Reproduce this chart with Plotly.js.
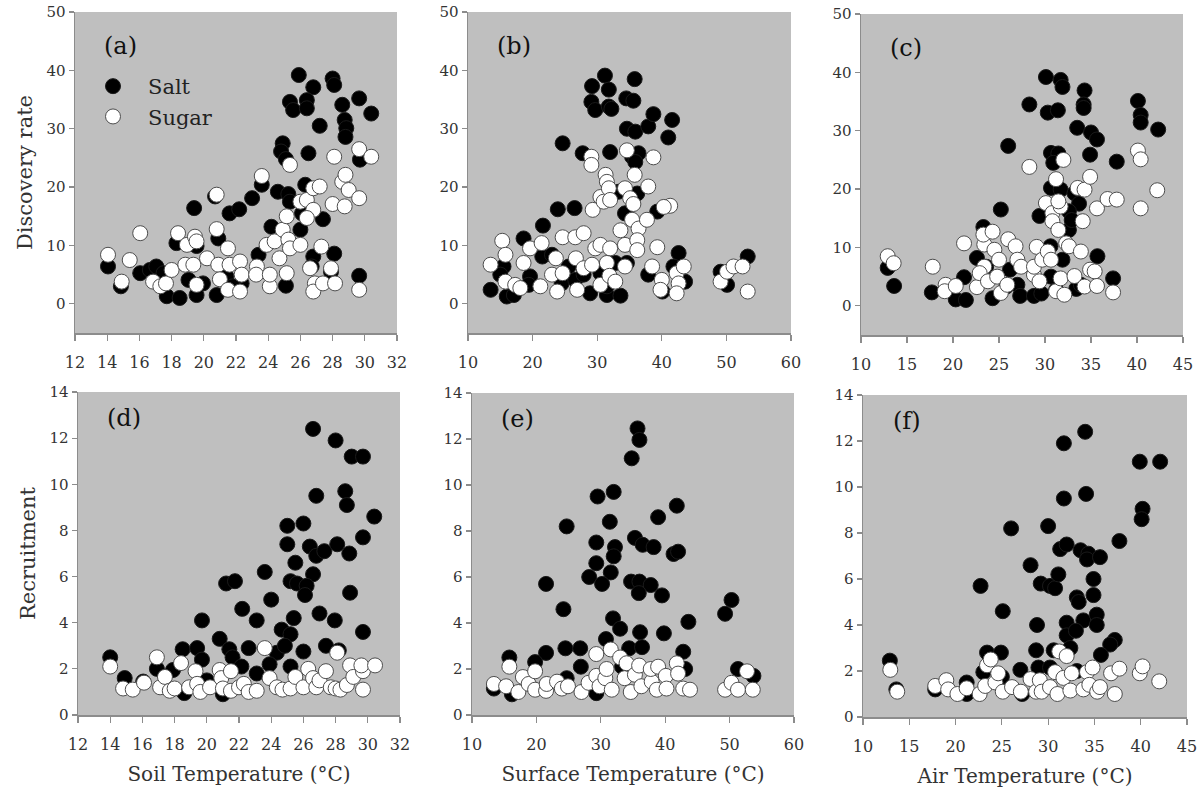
<!DOCTYPE html>
<html>
<head>
<meta charset="utf-8">
<script src="https://cdn.plot.ly/plotly-3.0.1.min.js"></script>
<style>html,body{margin:0;padding:0;background:#fff;}#chart{width:1204px;height:793px;}</style>
</head>
<body>
<div id="chart"></div>
<script>
// ---------- (a) Soil temperature vs discovery rate ----------
const soilSaltX = [25.9,26.8,26.4,25.35,25.55,26.4,28.0,28.1,28.6,29.65,30.4,28.75,28.85,28.8,27.2,24.9,24.8,25.1,26.5,29.7,23.6,23.0,24.6,25.25,25.35,26.3,21.6,22.2,19.4,20.7,20.9,18.3,19.55,24.2,26.0,27.4,26.1,23.4,26.8,28.1,29.65,25.1,14.05,14.85,16.05,16.65,17.05,17.7,18.5,19.55,20.8,19.05,19.95,21.4,22.35,27.9,26.7,17.5,21.8];
const soilSaltDisc = [39.2,37.1,34.9,34.6,33.2,33.5,38.6,37.5,34.1,35.2,32.6,31.5,30.1,28.6,30.5,27.5,26.1,24.8,25.8,24.7,20.4,18.1,19.2,18.8,17.5,20.4,15.5,16.2,16.4,18.4,11.2,10.4,9.9,13.2,12.7,14.5,15.5,8.4,8.1,8.6,4.8,3.1,6.4,3.0,5.25,5.8,6.4,1.3,1.0,1.5,1.5,4.1,3.5,4.7,3.5,5.5,6.4,5.25,3.0];
const soilSugarX = [14.05,15.4,16.05,14.9,16.85,17.3,17.65,18.0,18.4,18.95,19.45,19.55,18.85,19.35,19.55,20.2,20.8,20.8,20.9,21.0,21.5,21.6,21.5,22.25,22.35,22.25,23.3,23.25,23.6,24.1,23.9,24.1,24.4,24.7,24.9,25.15,25.15,25.25,25.35,25.35,26.0,26.0,26.4,26.8,27.2,26.8,26.4,26.6,26.9,26.8,27.4,27.3,27.9,28.15,28.1,28.0,28.75,28.6,28.8,29.0,29.65,29.65,30.4,29.65];
const soilSugarDisc = [8.4,7.5,12.1,3.8,3.8,3.0,3.5,5.8,12.1,10.1,11.5,10.7,6.7,6.7,3.25,7.8,18.7,12.8,6.7,4.2,9.5,6.7,2.4,7.25,5.0,2.1,6.4,5.0,21.9,3.0,10.1,5.0,10.7,7.8,12.7,15.0,5.25,11.0,23.8,9.5,10.1,17.5,17.8,19.8,20.1,16.1,14.7,6.1,3.5,2.1,3.5,9.8,6.1,3.5,25.2,17.1,16.7,20.9,22.1,19.5,18.1,26.5,25.2,2.4];

// ---------- (b) Surface temperature vs discovery rate ----------
const surfSaltX = [31.2,29.2,31.8,35.8,29.1,29.7,31.8,32.2,34.5,35.6,34.6,35.9,37.9,38.7,41.6,41.0,24.65,27.75,32.0,35.4,36.4,35.9,23.9,26.5,21.6,18.6,36.2,34.3,39.3,33.3,42.6,21.5,23.0,15.5,15.0,19.6,19.4,13.5,16.0,17.1,24.5,26.6,27.9,28.9,30.5,31.5,33.6,31.5,34.6,37.9,40.1,41.8,43.6,49.1,50.1,53.3,25.6,32.8];
const surfSaltDisc = [39.1,37.3,36.7,38.5,34.6,33.2,33.8,33.4,35.2,34.8,30.0,29.5,30.4,32.5,31.5,28.5,27.5,25.8,26.0,25.2,25.8,24.3,16.2,16.4,13.4,11.2,18.9,15.5,15.8,19.2,8.7,8.1,8.4,6.4,5.0,4.7,3.25,2.4,1.25,1.5,3.5,4.1,5.0,1.8,5.25,1.5,1.4,3.0,7.0,5.0,2.1,6.4,3.8,5.5,3.25,8.1,6.4,7.0];
const surfSugarX = [13.5,15.3,15.8,15.8,17.3,18.1,18.6,19.6,21.4,21.2,23.0,23.8,24.65,23.6,24.65,26.6,27.9,26.7,26.9,27.9,29.2,29.3,29.1,29.1,29.7,30.5,30.5,31.0,31.3,31.5,31.8,32.0,32.0,31.5,30.5,31.9,32.8,33.6,34.3,34.6,35.1,35.6,35.8,35.4,36.4,34.3,36.2,36.2,34.3,37.7,37.9,38.7,39.3,38.5,40.0,39.8,42.3,43.4,42.6,42.3,41.3,40.3,49.1,50.1,51.1,52.5,53.3];
const surfSugarDisc = [6.7,10.8,8.4,3.8,3.25,2.7,7.0,9.5,10.4,3.0,5.0,2.1,11.4,7.8,5.25,11.4,12.1,7.8,2.4,6.1,6.7,16.1,25.2,23.8,9.5,10.1,18.3,17.5,22.1,20.9,19.8,17.8,9.5,7.0,3.25,4.8,3.8,12.6,19.8,26.3,18.1,17.1,22.1,14.4,12.9,10.1,10.9,9.2,6.4,14.4,20.1,25.1,9.7,6.4,4.1,2.4,5.25,6.4,3.5,1.8,16.8,16.6,3.8,5.5,6.4,6.4,2.1];

// ---------- (c) Air temperature vs discovery rate ----------
const airSaltX = [30.1,31.7,31.9,34.3,34.2,34.2,28.3,30.3,31.4,33.5,35.0,35.65,40.1,40.4,40.4,42.3,26.0,30.65,31.45,30.9,34.9,37.8,30.65,31.7,33.2,33.7,32.6,29.4,25.2,23.3,32.6,32.9,30.6,35.7,22.6,23.6,31.9,12.9,13.6,17.7,20.3,21.4,21.2,24.3,26.2,27.0,27.3,28.8,29.6,30.65,33.4,33.9,37.4,31.2,25.8];
const airSaltDisc = [39.2,38.7,37.5,36.9,34.5,33.9,34.5,33.1,33.5,30.5,29.7,28.5,35.1,32.7,31.4,30.2,27.4,26.2,26.1,24.5,25.9,24.7,20.2,19.9,19.3,17.5,16.2,15.4,16.5,13.5,13.0,14.7,10.2,8.5,8.2,6.7,7.9,6.5,3.4,2.3,1.1,1.0,4.9,1.3,6.2,3.6,1.7,1.7,2.1,5.0,2.9,3.6,4.7,2.7,3.3];
const airSugarX = [12.9,13.55,17.8,19.2,19.1,20.3,21.2,22.6,23.4,23.3,24.3,23.4,22.9,23.8,24.5,25.0,24.8,25.2,26.0,26.8,27.0,27.4,25.9,28.3,28.8,28.8,29.1,29.4,29.7,30.3,30.65,30.1,30.8,30.8,31.45,31.2,31.7,31.45,32.0,31.2,32.1,32.3,32.6,31.7,33.2,33.9,34.1,33.55,34.3,34.9,34.3,34.9,35.4,35.65,35.65,36.8,37.8,37.4,40.1,40.4,40.4,42.2];
const airSugarDisc = [8.5,7.3,6.7,3.6,2.5,3.4,10.7,3.2,10.5,12.2,12.7,6.7,5.6,4.2,9.6,7.9,5.0,2.2,11.4,10.2,7.9,6.7,3.6,23.8,5.3,6.7,10.1,4.2,7.9,9.3,7.9,17.6,15.9,14.5,13.0,21.7,17.0,17.9,25.0,2.5,1.9,10.7,10.2,4.7,5.1,9.3,14.5,20.2,19.9,22.1,3.3,6.2,5.9,3.4,16.7,18.3,18.2,2.3,26.6,25.1,16.7,19.8];

// ---------- (d) Soil temperature vs recruitment ----------
const soilSaltRecX = [26.6,28.0,29.0,29.7,26.8,28.6,28.7,30.4,25.0,26.0,25.0,26.4,26.8,27.3,28.1,28.85,29.7,25.5,23.6,26.6,25.2,25.6,26.2,26.1,21.2,21.75,24.0,22.2,23.1,19.7,27.0,27.95,28.9,25.4,24.65,25.2,29.7,20.8,18.5,19.4,21.4,22.6,24.35,24.85,26.0,27.4,28.2,14.0,14.9,16.05,16.9,17.9,19.7,21.6,22.15,23.9,25.2,18.6,21.0,23.1,20.0];
const soilSaltRec = [12.4,11.9,11.2,11.2,9.5,9.7,9.1,8.6,8.2,8.3,7.4,7.3,6.9,7.1,7.4,7.0,7.7,6.6,6.2,6.1,5.8,5.7,5.6,5.2,5.7,5.8,5.0,4.6,4.1,4.1,4.4,4.1,5.3,4.2,3.7,3.5,3.6,3.3,2.85,2.9,2.85,2.9,2.7,3.0,2.75,3.0,2.8,2.5,1.6,1.45,2.0,1.95,2.4,2.5,2.1,2.2,2.1,0.95,0.9,1.8,1.5];
const soilSugarRecX = [14.0,14.8,15.4,16.1,16.9,17.1,17.4,17.7,18.4,18.0,18.9,19.3,19.4,19.6,20.2,20.8,20.9,21.0,21.5,21.5,22.0,22.3,22.6,23.1,23.6,23.9,24.35,24.7,25.2,25.5,26.0,26.3,26.6,26.8,27.0,27.4,27.7,28.1,28.0,28.3,28.7,28.9,29.1,29.7,29.7,29.6,30.45];
const soilSugarRec = [2.1,1.15,1.1,1.4,2.5,1.2,1.65,1.05,2.25,1.15,1.2,1.9,1.35,1.0,1.2,1.95,1.6,1.15,1.9,1.05,1.2,1.35,1.0,1.05,2.9,1.6,1.2,1.1,1.15,1.65,1.2,2.0,1.6,1.2,1.5,1.9,1.2,2.7,1.15,1.1,1.3,2.15,1.65,1.9,1.1,2.15,2.15];

// ---------- (e) Surface temperature vs recruitment ----------
const surfSaltRecX = [35.7,36.0,34.8,29.5,32.0,41.8,31.4,24.7,38.9,29.3,35.3,36.5,38.2,32.2,32.0,41.3,42.0,29.3,31.55,28.2,30.2,21.5,34.7,36.0,37.75,35.9,39.5,24.2,31.9,33.0,43.6,49.3,50.3,36.1,39.8,30.8,21.5,24.5,26.8,34.4,36.4,42.8,15.8,19.8,26.9,51.3,53.7,13.4,16.2,24.7,29.3,33.3,43.1];
const surfSaltRec = [12.46,11.96,11.16,9.5,9.7,9.1,8.4,8.2,8.6,7.5,7.7,7.4,7.3,7.3,6.9,7.0,7.1,6.6,6.2,6.0,5.7,5.7,5.8,5.8,5.65,5.3,5.2,4.6,4.2,3.75,4.05,4.4,5.0,3.6,3.55,3.3,2.7,2.9,2.9,2.9,2.95,2.75,2.5,2.3,2.1,2.0,1.7,1.15,0.9,1.6,0.95,2.1,2.0];
const surfSugarRecX = [13.4,15.3,15.8,17.2,17.9,18.8,19.8,19.8,21.5,21.6,23.2,23.95,24.9,27.0,28.1,29.3,29.3,29.8,30.7,31.55,30.9,31.7,33.0,33.7,34.0,34.65,35.3,35.95,36.3,37.9,37.75,38.9,38.7,40.1,40.2,41.8,42.0,42.8,43.85,49.3,50.3,51.3,52.7,53.6];
const surfSugarRec = [1.35,1.25,2.1,1.0,1.65,1.35,1.9,1.1,1.05,1.35,1.45,1.15,1.25,1.0,1.4,2.65,1.7,1.25,1.6,2.85,2.0,1.1,2.5,1.6,2.25,1.0,1.75,2.15,1.25,1.45,2.0,2.1,1.1,1.7,1.15,2.25,1.8,1.15,1.1,1.1,1.4,1.1,1.9,1.1];

// ---------- (f) Air temperature vs recruitment ----------
const airSaltRecX = [34.0,31.7,39.9,42.1,31.7,34.1,40.2,40.1,26.0,30.0,37.7,31.3,32.0,33.5,34.35,34.2,35.6,28.1,29.2,30.2,30.75,31.1,34.9,34.9,33.1,33.3,22.7,25.1,28.8,32.0,33.8,35.25,35.25,32.0,33.0,32.4,37.2,36.7,35.7,23.4,24.9,28.7,30.6,12.9,13.6,17.8,21.2,27.0,23.0,28.95,25.0,21.2,27.2,30.2,33.1];
const airSaltRec = [12.4,11.9,11.1,11.1,9.5,9.7,9.05,8.6,8.2,8.3,7.65,7.3,7.5,7.25,7.1,6.85,6.95,6.6,5.8,5.7,5.6,6.2,6.0,5.3,5.2,5.0,5.7,4.6,4.0,4.1,4.2,4.45,4.0,3.55,3.75,3.0,3.35,3.15,2.7,2.8,2.8,2.9,2.9,2.45,1.2,1.2,1.5,2.05,1.95,2.15,1.75,1.0,1.0,2.15,2.0];
const airSugarRecX = [12.95,13.7,17.8,19.0,19.2,20.2,21.2,22.6,23.2,23.4,23.8,24.3,24.6,25.1,26.1,27.05,28.1,28.7,29.1,29.3,30.2,30.75,31.0,31.2,31.65,32.0,32.4,32.55,33.8,34.2,34.8,34.45,35.3,35.6,36.8,37.2,37.7,39.9,40.2,42.0];
const airSugarRec = [2.05,1.1,1.35,1.6,1.2,1.0,1.25,1.0,1.35,2.25,2.5,1.5,1.9,1.1,1.3,1.1,1.65,1.1,1.6,1.1,1.3,1.95,1.0,2.85,1.7,2.65,1.15,1.9,1.2,1.95,2.15,1.4,1.1,1.3,1.9,1.0,2.1,1.9,2.2,1.55];

// ---------- labels ----------
const seriesNames = ["Salt", "Sugar"];
const panelLabels = ["(a)", "(b)", "(c)", "(d)", "(e)", "(f)"];
const xTitles = ["Soil Temperature (°C)", "Surface Temperature (°C)", "Air Temperature (°C)"];
const yTitles = ["Discovery rate", "Recruitment"];

// ---------- build ----------
const FONT = "DejaVu Serif, Liberation Serif, serif";
const saltMarker = {size: 15, color: "#000000", line: {color: "#1a1a1a", width: 1}};
const sugarMarker = {size: 15, color: "#ffffff", line: {color: "#4d4d4d", width: 1}};

const panels = [
  {sx: soilSaltX, sy: soilSaltDisc, wx: soilSugarX, wy: soilSugarDisc},
  {sx: surfSaltX, sy: surfSaltDisc, wx: surfSugarX, wy: surfSugarDisc},
  {sx: airSaltX, sy: airSaltDisc, wx: airSugarX, wy: airSugarDisc},
  {sx: soilSaltRecX, sy: soilSaltRec, wx: soilSugarRecX, wy: soilSugarRec},
  {sx: surfSaltRecX, sy: surfSaltRec, wx: surfSugarRecX, wy: surfSugarRec},
  {sx: airSaltRecX, sy: airSaltRec, wx: airSugarRecX, wy: airSugarRec}
];

const traces = [];
panels.forEach((p, i) => {
  const ax = i === 0 ? "" : String(i + 1);
  traces.push({type: "scatter", mode: "markers", x: p.sx, y: p.sy, name: seriesNames[0],
    xaxis: "x" + ax, yaxis: "y" + ax, marker: saltMarker, showlegend: i === 0, hoverinfo: "x+y"});
  traces.push({type: "scatter", mode: "markers", x: p.wx, y: p.wy, name: seriesNames[1],
    xaxis: "x" + ax, yaxis: "y" + ax, marker: sugarMarker, showlegend: i === 0, hoverinfo: "x+y"});
});

const W = 1204, H = 793;
// pixel boxes [left, right, top, bottom]
const boxes = [
  [75, 397, 12, 333], [468, 791, 12, 333], [861, 1183, 14, 335],
  [78, 400, 392, 715], [472, 794, 393, 715], [863, 1187, 395, 717]
];
const xRanges = [[12, 32], [10, 60], [10, 45], [12, 32], [10, 60], [10, 45]];
const xDticks = [2, 10, 5, 2, 10, 5];

const layout = {
  width: W, height: H,
  margin: {l: 0, r: 0, t: 0, b: 0},
  paper_bgcolor: "#ffffff",
  plot_bgcolor: "#bfbfbf",
  font: {family: FONT, size: 15, color: "#333333"},
  showlegend: true,
  legend: {x: 78 / W, y: 1 - 66 / H, xanchor: "left", yanchor: "top",
    bgcolor: "rgba(0,0,0,0)", font: {family: FONT, size: 21, color: "#222"},
    itemwidth: 60, tracegroupgap: 0},
  annotations: []
};

boxes.forEach((b, i) => {
  const ax = i === 0 ? "" : String(i + 1);
  const top = i < 3;
  layout["xaxis" + ax] = {
    domain: [b[0] / W, b[1] / W],
    anchor: "y" + ax,
    range: xRanges[i], dtick: xDticks[i], tick0: 0,
    showgrid: false, zeroline: false,
    showline: true, linecolor: "#8c8c8c", linewidth: 1.5,
    ticks: "outside", ticklen: 6, tickcolor: "#8c8c8c", tickwidth: 1.2,
    tickfont: {family: FONT, size: 16, color: "#333"},
    ticklabelstandoff: 8,
    title: top ? {text: ""} : {text: xTitles[i - 3], font: {family: FONT, size: 20, color: "#333"}, standoff: 14},
    automargin: false, fixedrange: true
  };
  layout["yaxis" + ax] = {
    domain: [1 - b[3] / H, 1 - b[2] / H],
    anchor: "x" + ax,
    range: top ? [-5, 50] : [0, 14], dtick: top ? 10 : 2, tick0: 0,
    showgrid: false, zeroline: false,
    showline: true, linecolor: "#8c8c8c", linewidth: 1.5,
    ticks: "outside", ticklen: 5, tickcolor: "#8c8c8c", tickwidth: 1.2,
    tickfont: {family: FONT, size: 15, color: "#333"},
    title: (i === 0 || i === 3) ? {text: yTitles[i === 0 ? 0 : 1], font: {family: FONT, size: 21, color: "#333"}, standoff: 8} : {text: ""},
    automargin: false, fixedrange: true
  };
  layout.annotations.push({
    text: panelLabels[i], xref: "x" + ax + " domain", yref: "y" + ax + " domain",
    x: 0.085, y: top ? 0.895 : 0.92, xanchor: "left", yanchor: "middle",
    showarrow: false, font: {family: FONT, size: 24, color: "#111"}
  });
});

Plotly.newPlot("chart", traces, layout, {displayModeBar: false, staticPlot: true});
</script>
</body>
</html>
